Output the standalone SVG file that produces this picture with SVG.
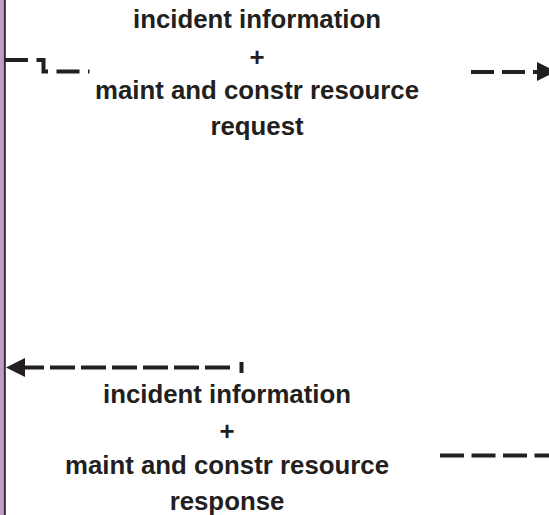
<svg xmlns="http://www.w3.org/2000/svg" width="549" height="515" viewBox="0 0 549 515">
  <style>
    .lbl { font-family: "Liberation Sans", Arial, sans-serif; font-weight: bold; font-size: 25.8px; fill: #231f20; text-anchor: middle; }
    .flow { fill: none; stroke: #231f20; stroke-width: 4; }
    .head { fill: #231f20; }
  </style>
  <rect width="549" height="515" fill="#ffffff"/>
  <g id="terminator">
    <rect x="0" y="0" width="3.8" height="515" fill="#c49ac8"/>
    <rect x="3.8" y="0" width="2" height="515" fill="#2b2b2b"/>
  </g>
  <g id="connectors">
    <path class="flow" d="M 5 60 H 43.5 V 71.5 H 89.5" stroke-dasharray="23 8.5"/>
    <path class="flow" d="M 471 72 H 539" stroke-dasharray="23 8"/>
    <polygon class="head" points="537,62 556,71.5 537,81"/>
    <path class="flow" d="M 241.5 362 V 373"/>
    <path class="flow" d="M 230 367.5 H 24" stroke-dasharray="25 6"/>
    <polygon class="head" points="6,367.5 25,358 25,377"/>
    <path class="flow" d="M 440 455.5 H 549" stroke-dasharray="24 7.5"/>
  </g>
  <g id="label-request">
    <text class="lbl" x="257" y="27.5">incident information</text>
    <text class="lbl" x="257" y="66">+</text>
    <text class="lbl" x="257" y="99">maint and constr resource</text>
    <text class="lbl" x="257" y="135">request</text>
  </g>
  <g id="label-response">
    <text class="lbl" x="227" y="403">incident information</text>
    <text class="lbl" x="227" y="440">+</text>
    <text class="lbl" x="227" y="474">maint and constr resource</text>
    <text class="lbl" x="227" y="509.5">response</text>
  </g>
</svg>
